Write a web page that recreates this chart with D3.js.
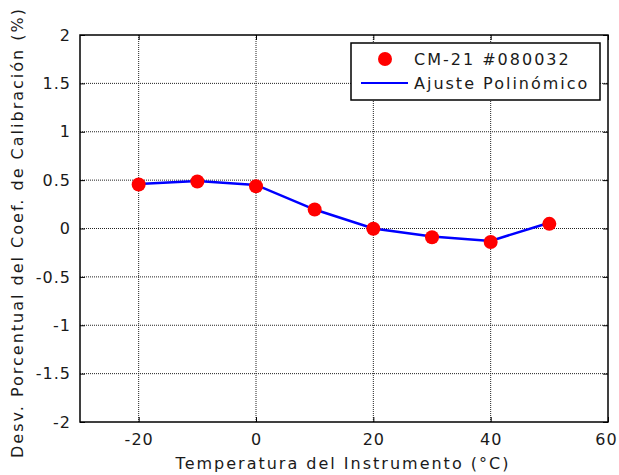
<!DOCTYPE html>
<html>
<head>
<meta charset="utf-8">
<script src="https://cdn.jsdelivr.net/npm/d3@7"></script>
<style>
  body { margin: 0; background: #fff; }
  svg { display: block; font-family: "DejaVu Sans", Verdana, sans-serif; }
  text { letter-spacing: 2px; fill: #1a1a1a; }
  .tick text { letter-spacing: 1px; }
</style>
</head>
<body>
<div id="chart"></div>
<script>
const temps = [-20, -10, 0, 10, 20, 30, 40, 50];
const measured = [0.455, 0.486, 0.437, 0.196, -0.003, -0.09, -0.14, 0.048];
const fitted = [0.46, 0.49, 0.45, 0.196, 0.0, -0.083, -0.128, 0.059];
const xTicks = [-20, 0, 20, 40, 60];
const yTicks = [-2, -1.5, -1, -0.5, 0, 0.5, 1, 1.5, 2];

const width = 619;
const height = 475;
const margin = { top: 35, right: 11, bottom: 53, left: 80 };
const w = width - margin.left - margin.right;
const h = height - margin.top - margin.bottom;

const svg = d3.select('#chart').append('svg')
  .attr('width', width)
  .attr('height', height);

const g = svg.append('g')
  .attr('transform', `translate(${margin.left},${margin.top})`);

const x = d3.scaleLinear().domain([-30, 60]).range([0, w]);
const y = d3.scaleLinear().domain([-2, 2]).range([h, 0]);

// grid
g.selectAll('.vgrid')
  .data(xTicks.filter(d => d < 60))
  .enter().append('line')
  .attr('x1', d => x(d)).attr('x2', d => x(d))
  .attr('y1', 0).attr('y2', h)
  .attr('stroke', '#222').attr('stroke-dasharray', '1,1');

g.selectAll('.hgrid')
  .data(yTicks.filter(d => d > -2 && d < 2))
  .enter().append('line')
  .attr('x1', 0).attr('x2', w)
  .attr('y1', d => y(d)).attr('y2', d => y(d))
  .attr('stroke', '#222').attr('stroke-dasharray', '1,1');

// axes with inward ticks, plain hyphen for negatives
const fmt = d => String(d);
const axisStyle = sel => {
  sel.select('.domain').remove();
  sel.selectAll('.tick line').attr('stroke', '#000');
  sel.selectAll('.tick text')
    .attr('fill', '#1a1a1a')
    .style('font-size', '16px')
    .style('font-family', '"DejaVu Sans", Verdana, sans-serif');
};

g.append('g')
  .attr('transform', `translate(0,${h})`)
  .call(d3.axisBottom(x).tickValues(xTicks).tickFormat(fmt).tickSizeInner(-5).tickPadding(12))
  .call(axisStyle)
  .selectAll('.tick text').attr('dx', d => d === 60 ? -2 : 0);

g.append('g')
  .call(d3.axisLeft(y).tickValues(yTicks).tickFormat(fmt).tickSizeInner(-5).tickPadding(9))
  .call(axisStyle);

g.append('g')
  .call(d3.axisTop(x).tickValues(xTicks).tickSizeInner(-5).tickFormat(''))
  .call(axisStyle);

g.append('g')
  .attr('transform', `translate(${w},0)`)
  .call(d3.axisRight(y).tickValues(yTicks).tickSizeInner(-5).tickFormat(''))
  .call(axisStyle);

g.append('rect')
  .attr('width', w).attr('height', h)
  .attr('fill', 'none')
  .attr('stroke', '#000')
  .attr('stroke-width', 1.5);

// fit line
const line = d3.line()
  .x((d, i) => x(temps[i]))
  .y(d => y(d));

g.append('path')
  .datum(fitted)
  .attr('d', line)
  .attr('fill', 'none')
  .attr('stroke', '#0000ff')
  .attr('stroke-width', 2.5);

g.selectAll('.pt')
  .data(measured)
  .enter().append('circle')
  .attr('cx', (d, i) => x(temps[i]))
  .attr('cy', d => y(d))
  .attr('r', 7)
  .attr('fill', '#ff0000');

// legend
const lg = svg.append('g').attr('transform', 'translate(351,43)');
lg.append('rect')
  .attr('width', 249).attr('height', 57)
  .attr('fill', '#fff').attr('stroke', '#000').attr('stroke-width', 1.5);
lg.append('circle')
  .attr('cx', 34).attr('cy', 16).attr('r', 7).attr('fill', '#ff0000');
lg.append('line')
  .attr('x1', 10).attr('x2', 57).attr('y1', 40).attr('y2', 40)
  .attr('stroke', '#0000ff').attr('stroke-width', 2);
lg.append('text')
  .attr('x', 63).attr('y', 22)
  .style('font-size', '16px')
  .text('CM-21 #080032');
lg.append('text')
  .attr('x', 63).attr('y', 46)
  .style('font-size', '16px')
  .text('Ajuste Polinómico');

// axis titles
svg.append('text')
  .attr('x', margin.left + w / 2 - 1)
  .attr('y', 469)
  .attr('text-anchor', 'middle')
  .style('font-size', '16px')
  .text('Temperatura del Instrumento (°C)');

svg.append('text')
  .attr('transform', `translate(23,${margin.top + h / 2 + 4}) rotate(-90)`)
  .attr('text-anchor', 'middle')
  .style('font-size', '16px')
  .text('Desv. Porcentual del Coef. de Calibración (%)');
</script>
</body>
</html>
